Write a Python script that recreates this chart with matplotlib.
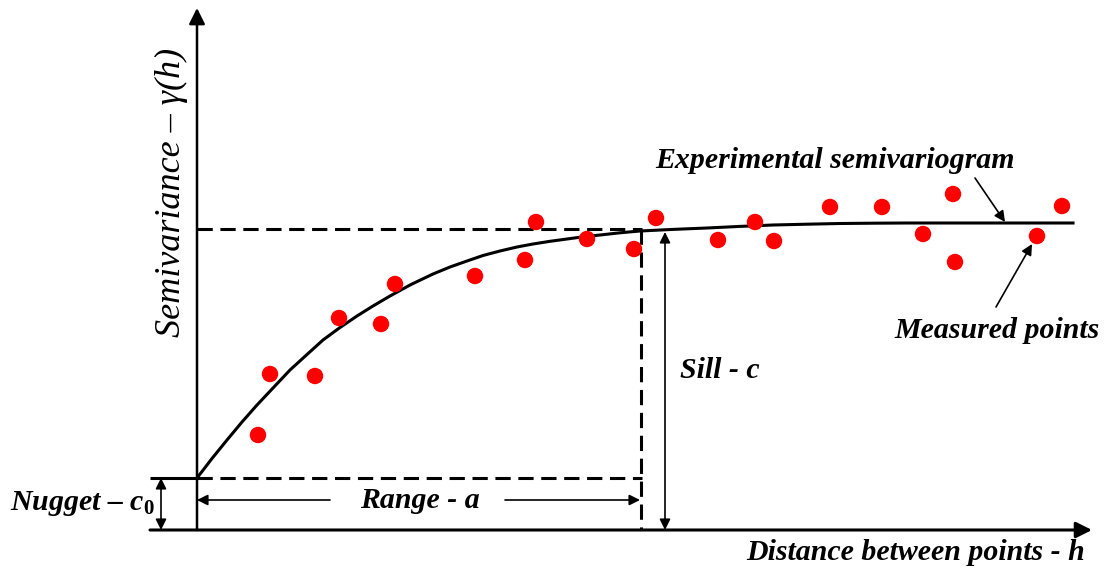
import matplotlib
matplotlib.use("Agg")
import matplotlib.pyplot as plt

plt.rcParams['lines.scale_dashes'] = False
plt.rcParams['mathtext.fontset'] = 'custom'
plt.rcParams['mathtext.it'] = 'Liberation Serif:italic:bold'
plt.rcParams['mathtext.rm'] = 'Liberation Serif:bold'

# Geometry of the model (distance h, semivariance gamma)
nugget = 52
sill_level = 301
range_a = 443

# Fitted model curve
curve_h = [0, 15, 30, 45, 60, 76, 93, 110, 126, 143, 160, 176, 193, 214, 236, 253, 270,
           286, 303, 320, 336, 353, 370, 386, 403, 423, 443, 476, 510, 543, 576, 610,
           643, 676, 710, 776, 876]
curve_g = [52, 71.5, 90, 108, 125, 142, 160, 175.5, 190, 202.5, 214, 224, 234, 245.5, 256,
           263, 269, 274.5, 279, 283, 286, 288.7, 291, 293.2, 295, 297.2, 299, 300.6, 302,
           303.6, 305, 305.8, 306.5, 306.8, 307, 307, 307]

# Measured points
pts_h = [61, 73, 118, 142, 184, 198, 278, 328, 339, 390, 437, 459, 521, 558, 577,
         633, 685, 726, 756, 758, 840, 865]
pts_g = [95, 156, 154, 212, 206, 246, 254, 270, 308, 291, 281, 312, 290, 308, 289,
         323, 323, 296, 336, 268, 294, 324]

fig = plt.figure(figsize=(11.05, 5.71), dpi=100)
ax = fig.add_axes([0, 0, 1, 1])
ax.set_xlim(-197, 908)
ax.set_ylim(-41, 530)
ax.axis('off')

FONT = 'Liberation Serif'
tkw = dict(family=FONT, style='italic', weight='bold', fontsize=21.5)

# axes with arrows
ax.annotate('', xy=(0, 522), xytext=(0, 0),
            arrowprops=dict(arrowstyle='-|>', color='black', lw=1.8, mutation_scale=24,
                            shrinkA=0, shrinkB=0))
ax.annotate('', xy=(895, 0), xytext=(-47, 0),
            arrowprops=dict(arrowstyle='-|>', color='black', lw=2.2, mutation_scale=24,
                            shrinkA=0, shrinkB=0))

# nugget line
ax.plot([-47, 0], [nugget, nugget], color='black', lw=2.2, solid_capstyle='butt')
ax.plot([0, range_a + 2], [nugget, nugget], color='black', lw=2.2,
        linestyle=(0, (11, 5.5)))
# sill dashed lines
ax.plot([0, range_a + 2], [sill_level, sill_level], color='black', lw=2.2,
        linestyle=(0, (11, 5.5)))
ax.plot([range_a + 1, range_a + 1], [sill_level, 0], color='black', lw=2.2,
        linestyle=(0, (11, 5.5)))

# model curve
ax.plot(curve_h, curve_g, color='black', lw=2.2, zorder=3, solid_joinstyle='round')

# measured points
ax.scatter(pts_h, pts_g, s=140, color='#ff0000', edgecolors='none', zorder=4)

# nugget double arrow
ax.annotate('', xy=(-36, nugget), xytext=(-36, 0),
            arrowprops=dict(arrowstyle='<|-|>', color='black', lw=1.2, mutation_scale=16,
                            shrinkA=0, shrinkB=0))
# range arrows
ax.annotate('', xy=(0, 30), xytext=(133, 30),
            arrowprops=dict(arrowstyle='-|>', color='black', lw=1.2, mutation_scale=16,
                            shrinkA=0, shrinkB=0))
ax.annotate('', xy=(range_a, 30), xytext=(308, 30),
            arrowprops=dict(arrowstyle='-|>', color='black', lw=1.2, mutation_scale=16,
                            shrinkA=0, shrinkB=0))
# sill double arrow
ax.annotate('', xy=(468, sill_level - 3), xytext=(468, 0),
            arrowprops=dict(arrowstyle='<|-|>', color='black', lw=1.2, mutation_scale=16,
                            shrinkA=0, shrinkB=0))

# annotation arrows
ax.annotate('', xy=(808, 308), xytext=(778, 352),
            arrowprops=dict(arrowstyle='-|>', color='black', lw=1.2, mutation_scale=16,
                            shrinkA=0, shrinkB=0))
ax.annotate('', xy=(835, 286), xytext=(799, 223),
            arrowprops=dict(arrowstyle='-|>', color='black', lw=1.2, mutation_scale=16,
                            shrinkA=0, shrinkB=0))

# texts
ax.text(458, 370, 'Experimental semivariogram', ha='left', va='center', **tkw)
ax.text(903, 200, 'Measured points', ha='right', va='center', **tkw)
ax.text(483, 160, 'Sill - c', ha='left', va='center', **tkw)
ax.text(223, 30, 'Range - a', ha='center', va='center', **tkw)
ax.text(-187, 27, 'Nugget – $c_0$', ha='left', va='center', **tkw)
ax.text(888, -23, 'Distance between points - h', ha='right', va='center', **tkw)
ax.text(-26, 338, 'Semivariance – γ(h)', ha='center', va='center', rotation=90,
        family=FONT, style='italic', fontsize=26)

fig.savefig('out.png', dpi=100)
